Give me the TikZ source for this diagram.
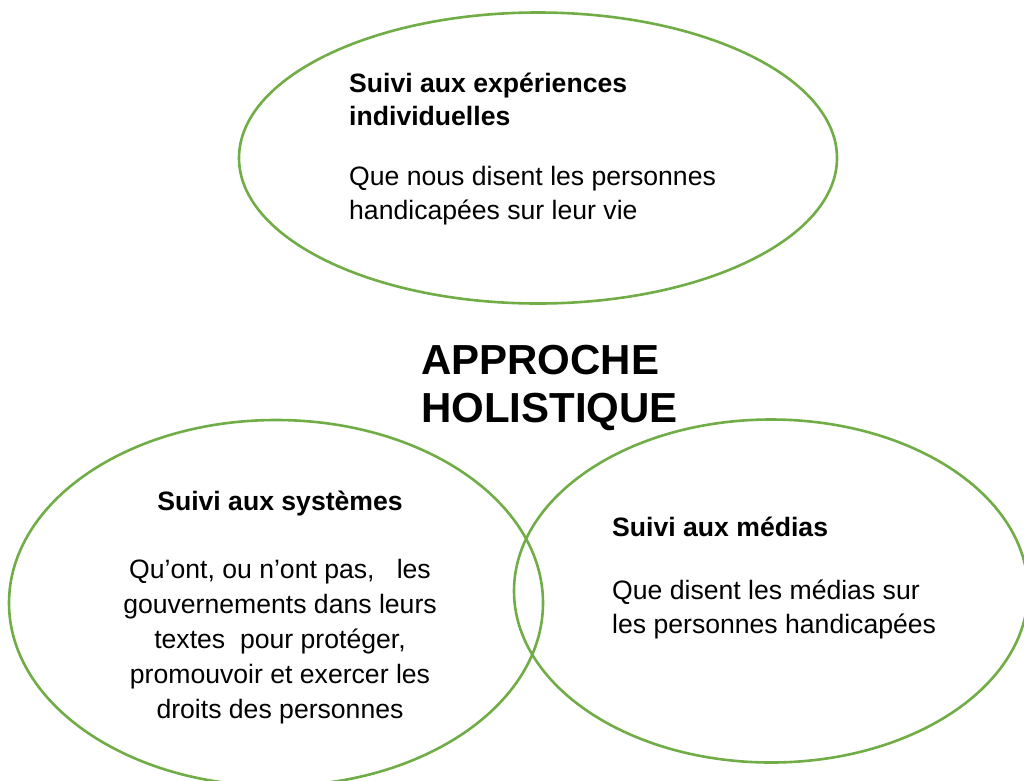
\documentclass[tikz,border=0pt]{standalone}
\usepackage{fontspec}
\setmainfont{Liberation Sans}
\usetikzlibrary{shapes.geometric}
\usepackage{xcolor}
\definecolor{leafgreen}{HTML}{70AD47}

\begin{document}
\begin{tikzpicture}[x=1pt, y=-1pt,
  rond/.style={ellipse, draw=leafgreen, line width=2.6pt, inner sep=0pt},
  titre/.style={inner sep=0pt, font=\fontsize{26.6}{34}\selectfont\bfseries},
  corps/.style={inner sep=0pt, font=\fontsize{26.6}{34}\selectfont}]

\useasboundingbox (0,0) rectangle (1024,780);

% Draw the three ellipses (name/x/y/width/height)
\foreach \n/\x/\y/\w/\h in {exp/538/158/598/291, sys/276/603/534/366, med/771/591/514/343} {
    \node[rond, minimum width=\w pt, minimum height=\h pt] (\n) at (\x,\y) {};
}

% Top ellipse text
\node[titre, anchor=base west] (exp-t1) at (349,92) {Suivi aux expériences};
\node[titre, anchor=base west] (exp-t2) at (349,125) {individuelles};
\node[corps, anchor=base west] (exp-c1) at (349,185) {Que nous disent les personnes};
\node[corps, anchor=base west] (exp-c2) at (349,219) {handicapées sur leur vie};

% Centre title
\node[inner sep=0pt, font=\fontsize{42}{48}\selectfont\bfseries, anchor=base west] (holo1) at (421,374) {APPROCHE};
\node[inner sep=0pt, font=\fontsize{42}{48}\selectfont\bfseries, anchor=base west] (holo2) at (421,422) {HOLISTIQUE};

% Bottom left ellipse text
\node[titre, anchor=base] (sys-t) at (280,510) {Suivi aux systèmes};
\foreach \i/\y/\txt in {1/578/{Qu’ont, ou n’ont pas,\ \ \ les}, 2/613/{gouvernements dans leurs}, 3/648/{textes\ \ pour protéger,}, 4/683/{promouvoir et exercer les}, 5/718/{droits des personnes}} {
    \node[corps, anchor=base] (sys-c\i) at (280,\y) {\txt};
}

% Bottom right ellipse text
\node[titre, anchor=base west] (med-t) at (612,536) {Suivi aux médias};
\node[corps, anchor=base west] (med-c1) at (612,599) {Que disent les médias sur};
\node[corps, anchor=base west] (med-c2) at (612,633) {les personnes handicapées};

\end{tikzpicture}
\end{document}
